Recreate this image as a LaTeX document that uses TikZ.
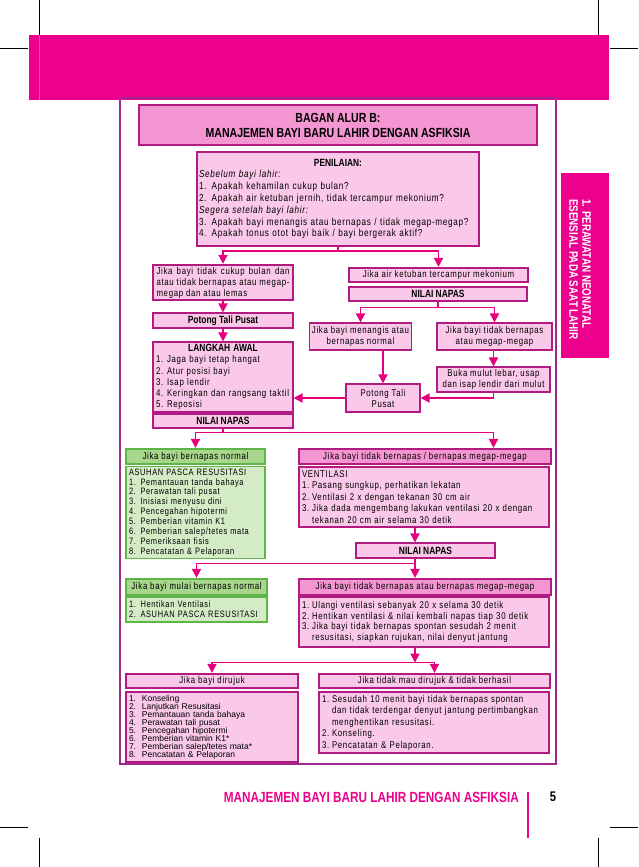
\documentclass[tikz,border=0pt]{standalone}
\usepackage{fontspec}
\setmainfont{Liberation Sans}
\newfontfamily\bodyf{Liberation Sans}[FakeStretch=0.8,LetterSpace=7]
\newfontfamily\condf{Liberation Sans}[FakeStretch=0.8]
\usetikzlibrary{arrows.meta,positioning}
\definecolor{pagemag}{RGB}{236,0,140}
\definecolor{arrowmag}{RGB}{230,0,126}
\definecolor{framepurp}{RGB}{160,40,140}
\definecolor{boxline}{RGB}{178,28,128}
\definecolor{boxfill}{RGB}{250,200,232}
\definecolor{headfill}{RGB}{244,150,210}
\definecolor{greenline}{RGB}{95,180,72}
\definecolor{greenfill}{RGB}{212,236,198}
\definecolor{greenhead}{RGB}{168,214,140}
\tikzset{
  box/.style={draw=boxline, fill=boxfill, line width=1.1pt, inner sep=2pt,
    font=\bodyf\fontsize{9.8}{11}\selectfont},
  thickbox/.style={box, line width=2.2pt},
  pinkhead/.style={box, fill=headfill, line width=2.2pt},
  greenbox/.style={box, draw=greenline, fill=greenfill},
  greenhd/.style={greenbox, fill=greenhead, line width=2.2pt},
  boldbox/.style={box, font=\condf\bfseries\fontsize{10.5}{12}\selectfont},
  rowskip/.style={font=\bodyf\fontsize{9.8}{#1}\selectfont},
  flow/.style={-{Triangle[length=9pt,width=9pt]}, line width=1.8pt, draw=arrowmag},
  link/.style={line width=1.8pt, draw=arrowmag},
  crop/.style={black, line width=0.6pt}
}
\newcommand\numbox[2][10pt]{\makebox[#1][l]{#2}}

\begin{document}
\begin{tikzpicture}[x=1pt, y=-1pt]
  \useasboundingbox (0,0) rectangle (638,867);
  \draw[crop] (39,0) -- (39,35) (598,0) -- (598,35) (0,48) -- (28,48) (610,48) -- (638,48);
  \draw[crop] (0,827) -- (28,827) (610,827) -- (638,827) (39,838) -- (39,867) (598,838) -- (598,867);
  \fill[pagemag] (28.5,35.4) rectangle (608.5,99.6);
  \draw[pagemag!70!white, line width=0.5pt] (39,35.4) -- (39,99.6);
  \draw[framepurp, line width=1.2pt] (120,98) rectangle (556,764);

  \node[box, fill=headfill, minimum width=398pt, minimum height=40pt, align=center,
    font=\condf\bfseries\fontsize{13.2}{15}\selectfont] (title) at (338,125)
    {BAGAN ALUR B:\\MANAJEMEN BAYI BARU LAHIR DENGAN ASFIKSIA};
  \node[box, font=\bodyf\fontsize{10.2}{11.8}\selectfont, minimum width=282pt, minimum height=94pt,
    text width=278pt, align=left] (nilai) at (338,199)
    {{\centering\condf\bfseries\fontsize{10.5}{11.8}\selectfont PENILAIAN:\par}
     \textit{Sebelum bayi lahir:}\\
     1. Apakah kehamilan cukup bulan?\\
     2. Apakah air ketuban jernih, tidak tercampur mekonium?\\
     \textit{Segera setelah bayi lahir:}\\
     3. Apakah bayi menangis atau bernapas / tidak megap-megap?\\
     4. Apakah tonus otot bayi baik / bayi bergerak aktif?};

  \node[thickbox, minimum width=140pt, minimum height=31pt, text width=133pt,
    align=justify] (cukup) at (223,282.5)
    {Jika bayi tidak cukup bulan dan\linebreak atau tidak bernapas atau megap-\linebreak megap dan atau lemas};
  \node[boldbox, minimum width=140pt, minimum height=15pt] (potong1) at (223,320.5) {Potong Tali Pusat};
  \node[box, rowskip=11.2, minimum width=140pt, minimum height=70pt, text width=134pt,
    align=left] (langkah) at (223,377)
    {{\centering\condf\bfseries\fontsize{10.5}{11.2}\selectfont LANGKAH AWAL\par}
     \numbox[11pt]{1.}Jaga bayi tetap hangat\\
     \numbox[11pt]{2.}Atur posisi bayi\\
     \numbox[11pt]{3.}Isap lendir\\
     \numbox[11pt]{4.}Keringkan dan rangsang taktil\\
     \numbox[11pt]{5.}Reposisi};
  \node[boldbox, minimum width=140pt, minimum height=14pt] (napas1) at (223,421) {NILAI NAPAS};

  \node[thickbox, minimum width=179pt, minimum height=14pt] (air) at (438.5,275) {Jika air ketuban tercampur mekonium};
  \node[boldbox, minimum width=178pt, minimum height=14pt] (napas2) at (438,294) {NILAI NAPAS};
  \node[box, minimum width=95pt, minimum height=27pt, align=center] (menangis) at (360.5,336.5)
    {Jika bayi menangis atau\\bernapas normal};
  \node[box, minimum width=115pt, minimum height=27pt, align=center] (megap) at (494.5,336.5)
    {Jika bayi tidak bernapas\\atau megap-megap};
  \node[box, minimum width=113pt, minimum height=25pt, align=center] (buka) at (493.5,379.5)
    {Buka mulut lebar, usap\\dan isap lendir dari mulut};
  \node[box, minimum width=74pt, minimum height=28pt, align=center] (potong2) at (383,398)
    {Potong Tali\\Pusat};

  \node[greenhd, minimum width=139pt, minimum height=15pt] (normal1) at (195.5,456.5) {Jika bayi bernapas normal};
  \node[greenbox, font=\bodyf\fontsize{9.3}{9.9}\selectfont, minimum width=139pt, minimum height=91pt,
    text width=133pt, align=left] (asuhan) at (195.5,512.5)
    {ASUHAN PASCA RESUSITASI\\
     1. Pemantauan tanda bahaya\\
     2. Perawatan tali pusat\\
     3. Inisiasi menyusu dini\\
     4. Pencegahan hipotermi\\
     5. Pemberian vitamin K1\\
     6. Pemberian salep/tetes mata\\
     7. Pemeriksaan fisis\\
     8. Pencatatan \& Pelaporan};
  \node[pinkhead, minimum width=252pt, minimum height=15pt] (gagal1) at (425,456.5) {Jika bayi tidak bernapas / bernapas megap-megap};
  \node[box, rowskip=11.5, minimum width=250pt, minimum height=60pt, text width=244pt,
    align=left] (venti) at (424,497)
    {VENTILASI\\
     \numbox{1.}Pasang sungkup, perhatikan lekatan\\
     \numbox{2.}Ventilasi 2 x dengan tekanan 30 cm air\\
     \numbox{3.}Jika dada mengembang lakukan ventilasi 20 x dengan\\
     \numbox{}tekanan 20 cm air selama 30 detik};
  \coordinate (spine) at (415,0);
  \node[boldbox, minimum width=139pt, minimum height=15pt] (napas3) at (425.5,550.5) {NILAI NAPAS};

  \node[greenhd, minimum width=141pt, minimum height=16pt] (normal2) at (196.5,587) {Jika bayi mulai bernapas normal};
  \node[greenbox, font=\bodyf\fontsize{9.3}{10}\selectfont, minimum width=141pt, minimum height=25pt,
    text width=135pt, align=left] (henti) at (196.5,609.5)
    {1. Hentikan Ventilasi\\2. ASUHAN PASCA RESUSITASI};
  \node[pinkhead, minimum width=252pt, minimum height=16pt] (gagal2) at (425,587) {Jika bayi tidak bernapas atau bernapas megap-megap};
  \node[box, rowskip=10.6, minimum width=250pt, minimum height=50pt, text width=244pt,
    align=left] (ulang) at (424,622)
    {\numbox{1.}Ulangi ventilasi sebanyak 20 x selama 30 detik\\
     \numbox{2.}Hentikan ventilasi \& nilai kembali napas tiap 30 detik\\
     \numbox{3.}Jika bayi tidak bernapas spontan sesudah 2 menit\\
     \numbox{}resusitasi, siapkan rujukan, nilai denyut jantung};

  \node[thickbox, minimum width=172pt, minimum height=14pt] (rujuk) at (212,681) {Jika bayi dirujuk};
  \node[box, font=\fontsize{8.5}{8}\selectfont, minimum width=172pt, minimum height=70pt,
    text width=166pt, align=left] (rujukisi) at (212,727)
    {\numbox[13pt]{1.}Konseling\\
     \numbox[13pt]{2.}Lanjutkan Resusitasi\\
     \numbox[13pt]{3.}Pemantauan tanda bahaya\\
     \numbox[13pt]{4.}Perawatan tali pusat\\
     \numbox[13pt]{5.}Pencegahan hipotermi\\
     \numbox[13pt]{6.}Pemberian vitamin K1*\\
     \numbox[13pt]{7.}Pemberian salep/tetes mata*\\
     \numbox[13pt]{8.}Pencatatan \& Pelaporan};
  \node[thickbox, minimum width=231pt, minimum height=14pt] (tolak) at (434.5,681) {Jika tidak mau dirujuk \& tidak berhasil};
  \node[box, rowskip=11.5, minimum width=230pt, minimum height=61pt, text width=224pt,
    align=left] (tolakisi) at (434,722.5)
    {\numbox{1.}Sesudah 10 menit bayi tidak bernapas spontan\\
     \numbox{}dan tidak terdengar denyut jantung pertimbangkan\\
     \numbox{}menghentikan resusitasi.\\
     \numbox{2.}Konseling.\\
     \numbox{3.}Pencatatan \& Pelaporan.};

  \fill[pagemag] (561,173) rectangle (609,358);
  \node[text=white, rotate=-90, inner sep=0pt, align=left,
    font=\condf\bfseries\fontsize{12.3}{13}\selectfont] (tab) at (580,269.5)
    {1. PERAWATAN NEONATAL\\ESENSIAL PADA SAAT LAHIR};
  \node[anchor=east, text=pagemag, inner sep=0pt, font=\condf\bfseries\fontsize{14.7}{16}\selectfont] (footer) at (519,797)
    {MANAJEMEN BAYI BARU LAHIR DENGAN ASFIKSIA};
  \draw[pagemag, line width=1.6pt] (528,792) -- (528,838);
  \node[inner sep=0pt, font=\condf\bfseries\fontsize{14}{15}\selectfont] (page) at (553,797) {5};

  \draw[link] (nilai.south) -- ++(0,4.5) coordinate (s1);
  \draw[flow] (s1) -| (cukup.north);
  \draw[flow] (s1) -| (air.north);
  \draw[flow] (cukup) -- (potong1);
  \draw[flow] (potong1) -- (langkah);
  \draw[link] (napas2.south) -- ++(0,6) coordinate (s2);
  \draw[flow] (s2) -| (menangis.north);
  \draw[flow] (s2) -| (megap.north);
  \draw[flow] (potong2.north |- menangis.south) -- (potong2.north);
  \draw[flow] (buka.north |- megap.south) -- (buka.north);
  \draw[flow] (buka.south) |- (potong2.east);
  \draw[flow] (potong2.west) -- (potong2.west -| langkah.east);
  \draw[link] (napas1.south) -- ++(0,4) coordinate (s3);
  \draw[flow] (s3) -| (normal1.north);
  \draw[flow] (s3) -| (buka.south |- gagal1.north);
  \draw[flow] (venti.south -| spine) -- (napas3.north -| spine);
  \draw[link] (napas3.south -| spine) -- ++(0,5) coordinate (s4);
  \draw[flow] (s4) -| (normal2.north);
  \draw[flow] (s4) -- (gagal2.north -| spine);
  \draw[flow] (ulang.south -| spine) -- ++(0,15) coordinate (s5);
  \draw[flow] (s5) -| (rujuk.north);
  \draw[flow] (s5) -| (tolak.north);
\end{tikzpicture}
\end{document}
